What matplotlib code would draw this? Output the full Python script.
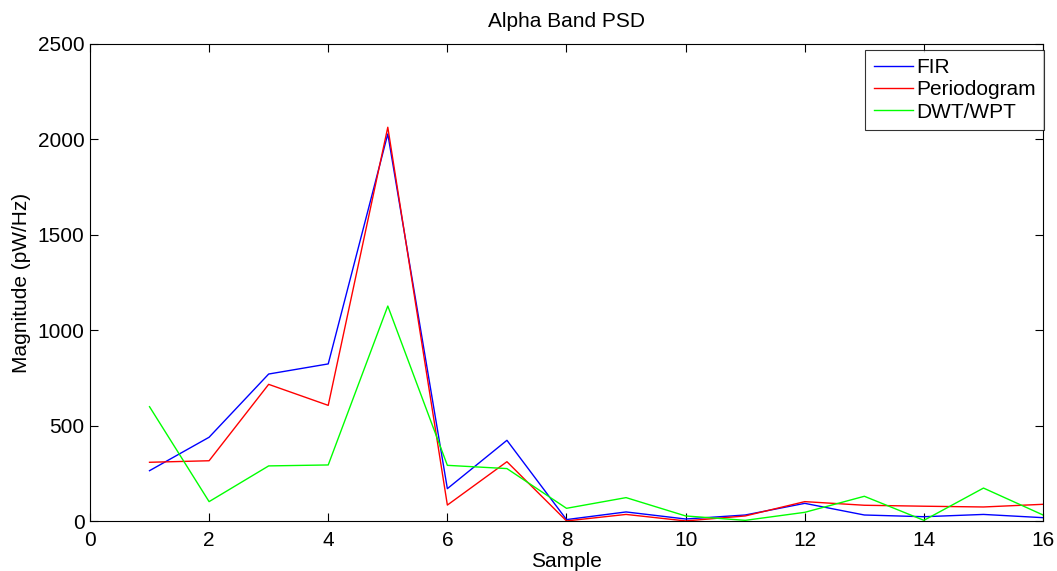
import matplotlib
matplotlib.use("Agg")
import matplotlib.pyplot as plt

plt.rcParams['font.family'] = ['Liberation Sans', 'DejaVu Sans']

samples = list(range(1, 17))
fir = [266, 441, 772, 825, 2029, 172, 425, 10, 50, 13, 34, 95, 34, 25, 37, 20]
periodogram = [310, 318, 718, 608, 2064, 86, 313, 3, 37, 3, 29, 104, 85, 80, 76, 90]
dwt_wpt = [601, 104, 291, 296, 1128, 294, 277, 69, 125, 29, 6, 48, 132, 6, 175, 34]

xticks = [0, 2, 4, 6, 8, 10, 12, 14, 16]
yticks = [0, 500, 1000, 1500, 2000, 2500]

fig = plt.figure(figsize=(10.57, 5.71), dpi=100)
ax = fig.add_axes([0.0851, 0.0867, 0.9017, 0.8363])

ax.plot(samples, fir, color='#0000ff', lw=1.0, label='FIR')
ax.plot(samples, periodogram, color='#ff0000', lw=1.0, label='Periodogram')
ax.plot(samples, dwt_wpt, color='#00ff00', lw=1.0, label='DWT/WPT')

ax.set_xlim(0, 16)
ax.set_ylim(0, 2500)
ax.set_xticks(xticks)
ax.set_yticks(yticks)
ax.tick_params(direction='in', length=6, width=0.8, top=True, right=True,
               labelsize=15, colors='black')
ax.tick_params(axis='x', pad=6.5)
ax.tick_params(axis='y', pad=4)
for s in ax.spines.values():
    s.set_linewidth(0.8)
    s.set_color('black')

ax.set_title('Alpha Band PSD', fontsize=15, pad=12)
ax.set_xlabel('Sample', fontsize=15, labelpad=2)
ax.set_ylabel('Magnitude (pW/Hz)', fontsize=15, labelpad=5)

leg = ax.legend(loc='upper right', bbox_to_anchor=(1.0015, 0.9874),
                fontsize=15, frameon=True, fancybox=False,
                borderaxespad=0.0, handlelength=1.9, handletextpad=0.15,
                labelspacing=0.15, borderpad=0.4)
leg.get_frame().set_edgecolor('black')
leg.get_frame().set_linewidth(0.8)

fig.savefig('out.png', dpi=100)
